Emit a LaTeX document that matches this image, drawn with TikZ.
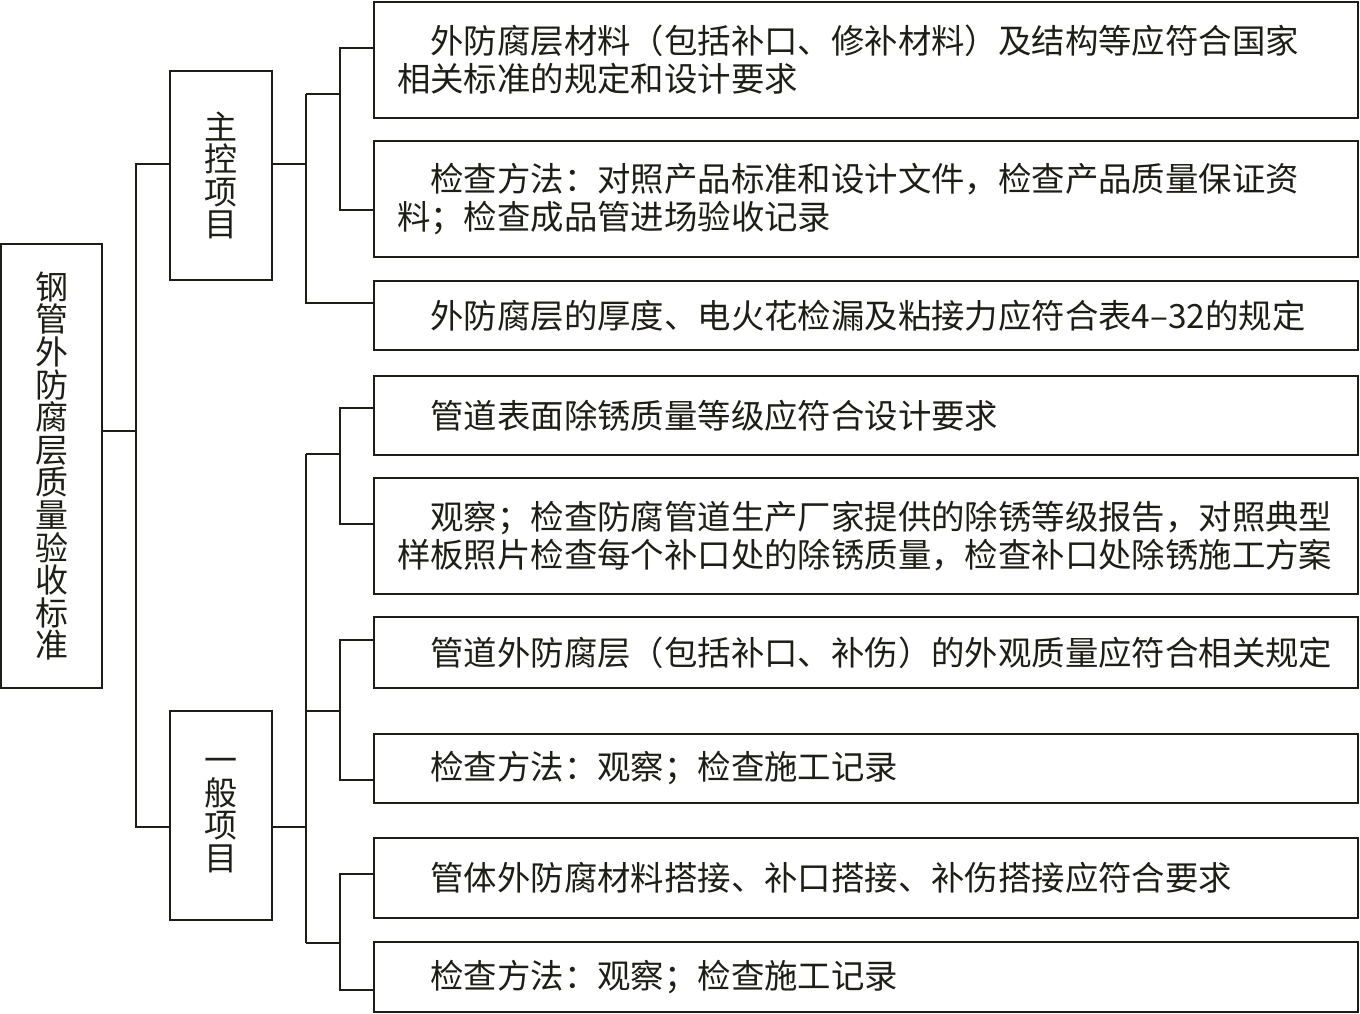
\documentclass[tikz,border=0pt]{standalone}
\usepackage{fontspec}
\usepackage{xcolor}
\usepackage{tikz}
\usetikzlibrary{calc,positioning}
\newfontfamily\cjk{Noto Sans CJK SC}
\definecolor{ink}{RGB}{30,30,22}
\tikzset{
  every node/.style = {outer sep=0, inner sep=0},
  line/.style = {line width=1pt, draw=ink},
  vbox/.style = {rectangle, draw=ink, line width=1pt, minimum width=51pt, align=center, text=ink,
                 font=\cjk\fontsize{16.5}{16.3}\selectfont},
  item/.style = {rectangle, draw=ink, line width=1pt, minimum width=492pt, text width=469pt, align=left,
                 text=ink, font=\cjk\fontsize{16.7}{19}\selectfont}
}

\begin{document}
\begin{tikzpicture}[x=0.5pt, y=-0.5pt]
    \useasboundingbox (0,0) rectangle (1360,1013);
    % left column
    \node[vbox, minimum width=50.5pt, minimum height=222pt] (root) at (51.5,466)
      {钢\\管\\外\\防\\腐\\层\\质\\量\\验\\收\\标\\准};
    \node[vbox, minimum height=104.5pt] (zk) at (221,175.5) {主\\控\\项\\目};
    \node[vbox, minimum height=104.5pt] (yb) at (221,815.5) {一\\般\\项\\目};
    % items
    \foreach \i/\ya/\yb/\txt in {
      1/2/118/{外防腐层材料（包括补口、修补材料）及结构等应符合国家\\相关标准的规定和设计要求},
      2/141/257/{检查方法：对照产品标准和设计文件，检查产品质量保证资\\料；检查成品管进场验收记录},
      3/281/350/{外防腐层的厚度、电火花检漏及粘接力应符合表4–32的规定},
      4/376/455/{管道表面除锈质量等级应符合设计要求},
      5/478/594/{观察；检查防腐管道生产厂家提供的除锈等级报告，对照典型\\样板照片检查每个补口处的除锈质量，检查补口处除锈施工方案},
      6/617/688/{管道外防腐层（包括补口、补伤）的外观质量应符合相关规定},
      7/734/803/{检查方法：观察；检查施工记录},
      8/838/918/{管体外防腐材料搭接、补口搭接、补伤搭接应符合要求},
      9/942/1012/{检查方法：观察；检查施工记录}
    }{
      \node[item, minimum height={(\yb-\ya)*0.5pt}] (b\i) at (866,{(\ya+\yb)/2}) {\hspace*{1em}\txt};
    }
    % junctions
    \coordinate (j0) at (136,431);
    \coordinate (ja) at (136,164);
    \coordinate (jb) at (136,827);
    \coordinate (zr) at (306,164);
    \coordinate (z1) at (306,94);
    \coordinate (z2) at (306,303);
    \coordinate (z1r) at (340,94);
    \coordinate (p1) at (340,48);
    \coordinate (p2) at (340,210);
    \coordinate (yr) at (306,827);
    \coordinate (y1) at (306,454);
    \coordinate (y2) at (306,711);
    \coordinate (y3) at (306,943);
    \coordinate (q1) at (340,408);
    \coordinate (q2) at (340,524);
    \coordinate (q3) at (340,640);
    \coordinate (q4) at (340,780);
    \coordinate (q5) at (340,874);
    \coordinate (q6) at (340,990);
    % connectors
    \draw[line] (root.east |- j0) -- (j0);
    \draw[line] (zk.west |- ja) -- (ja) -- (jb) -- (yb.west |- jb);
    \draw[line] (zk.east |- zr) -- (zr);
    \draw[line] (z1) -- (z2) -- (b3.west |- z2);
    \draw[line] (z1) -- (z1r);
    \draw[line] (b1.west |- p1) -- (p1) -- (p2) -- (b2.west |- p2);
    \draw[line] (yb.east |- yr) -- (yr);
    \draw[line] (y1) -- (y3);
    \draw[line] (y1) -- (y1 -| q1);
    \draw[line] (y2) -- (y2 -| q3);
    \draw[line] (y3) -- (y3 -| q5);
    \draw[line] (b4.west |- q1) -- (q1) -- (q2) -- (b5.west |- q2);
    \draw[line] (b6.west |- q3) -- (q3) -- (q4) -- (b7.west |- q4);
    \draw[line] (b8.west |- q5) -- (q5) -- (q6) -- (b9.west |- q6);
\end{tikzpicture}
\end{document}
